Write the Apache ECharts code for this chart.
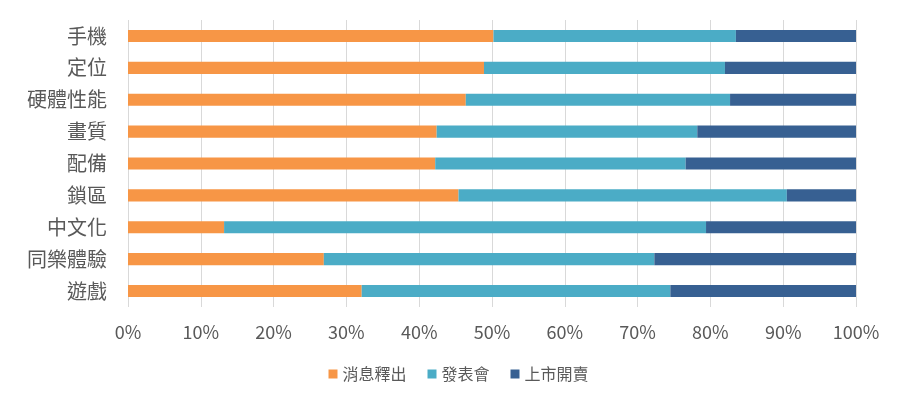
<!DOCTYPE html>
<html><head><meta charset="utf-8">
<script src="https://cdn.jsdelivr.net/npm/echarts@6/dist/echarts.min.js"></script>
<style>html,body{margin:0;padding:0;background:#fff}#c{width:917px;height:395px}</style>
</head><body><div id="c"></div>
<script>
const categories = ['手機','定位','硬體性能','畫質','配備','鎖區','中文化','同樂體驗','遊戲'];
const seriesNames = ['消息釋出','發表會','上市開賣'];
const newsRelease = [50.2, 48.9, 46.4, 42.4, 42.2, 45.4, 13.2, 26.9, 32.1];
const launchEvent = [33.3, 33.1, 36.3, 35.8, 34.4, 45.1, 66.2, 45.4, 42.4];
const onSale = [16.5, 18.0, 17.3, 21.8, 23.4, 9.5, 20.6, 27.7, 25.5];
const xTicks = [0,10,20,30,40,50,60,70,80,90,100];
const colors = ['#F79646','#4BACC6','#376092'];
const font = '"Noto Sans CJK TC", "Noto Sans", sans-serif';
const chart = echarts.init(document.getElementById('c'));
const vals = [newsRelease, launchEvent, onSale];
chart.setOption({
  animation: false,
  textStyle: {fontFamily: font},
  grid: {left: 128, right: 61, top: 20, bottom: 88, containLabel: false},
  legend: {
    top: 361, left: 'center', itemWidth: 9, itemHeight: 9, itemGap: 21,
    icon: 'rect',
    textStyle: {color: '#595959', fontSize: 16, fontFamily: font},
    data: seriesNames
  },
  xAxis: {
    type: 'value', min: xTicks[0], max: xTicks[xTicks.length-1], interval: 10,
    axisLine: {show: false}, axisTick: {show: false},
    splitLine: {lineStyle: {color: '#D9D9D9', width: 1}},
    axisLabel: {formatter: v => v + '%', color: '#595959', fontSize: 18, margin: 16, fontFamily: font}
  },
  yAxis: {
    type: 'category', data: categories, inverse: true,
    axisLine: {show: false}, axisTick: {show: false},
    axisLabel: {color: '#595959', fontSize: 20, margin: 21, fontFamily: font}
  },
  series: seriesNames.map((n, i) => ({
    name: n, type: 'bar', stack: 'total', barWidth: '38%',
    itemStyle: {color: colors[i]},
    data: vals[i]
  }))
});
</script></body></html>
